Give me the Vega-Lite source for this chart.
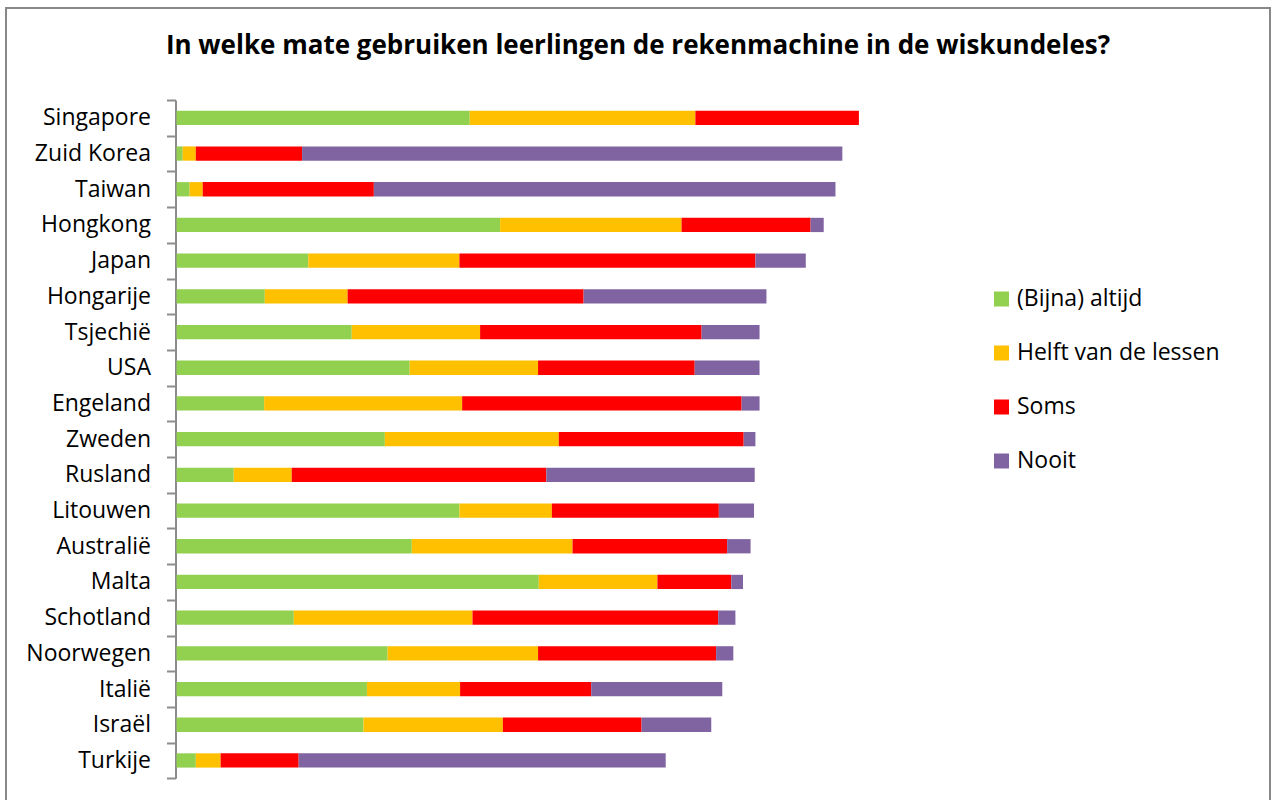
{
  "$schema": "https://vega.github.io/schema/vega-lite/v6.json",
  "width": 1264,
  "height": 800,
  "autosize": {"type": "none"},
  "padding": {"left": 6, "top": 8, "right": 2, "bottom": 0},
  "background": "white",
  "title": {
    "text": "In welke mate gebruiken leerlingen de rekenmachine in de wiskundeles?",
    "font": "Open Sans",
    "fontSize": 26,
    "fontWeight": "bold",
    "color": "#000000",
    "anchor": "middle",
    "frame": "group",
    "baseline": "alphabetic",
    "offset": -48,
    "dy": 35
  },
  "config": {
    "view": {"stroke": "#888888", "strokeWidth": 2}
  },
  "datasets": {
    "rows": [
      {"land": "Singapore", "categorie": "(Bijna) altijd", "volgorde": 1, "waarde": 42.5},
      {"land": "Singapore", "categorie": "Helft van de lessen", "volgorde": 2, "waarde": 32.7},
      {"land": "Singapore", "categorie": "Soms", "volgorde": 3, "waarde": 23.7},
      {"land": "Singapore", "categorie": "Nooit", "volgorde": 4, "waarde": 0},
      {"land": "Zuid Korea", "categorie": "(Bijna) altijd", "volgorde": 1, "waarde": 0.9},
      {"land": "Zuid Korea", "categorie": "Helft van de lessen", "volgorde": 2, "waarde": 1.9},
      {"land": "Zuid Korea", "categorie": "Soms", "volgorde": 3, "waarde": 15.4},
      {"land": "Zuid Korea", "categorie": "Nooit", "volgorde": 4, "waarde": 78.3},
      {"land": "Taiwan", "categorie": "(Bijna) altijd", "volgorde": 1, "waarde": 1.9},
      {"land": "Taiwan", "categorie": "Helft van de lessen", "volgorde": 2, "waarde": 1.9},
      {"land": "Taiwan", "categorie": "Soms", "volgorde": 3, "waarde": 24.8},
      {"land": "Taiwan", "categorie": "Nooit", "volgorde": 4, "waarde": 66.9},
      {"land": "Hongkong", "categorie": "(Bijna) altijd", "volgorde": 1, "waarde": 46.9},
      {"land": "Hongkong", "categorie": "Helft van de lessen", "volgorde": 2, "waarde": 26.3},
      {"land": "Hongkong", "categorie": "Soms", "volgorde": 3, "waarde": 18.7},
      {"land": "Hongkong", "categorie": "Nooit", "volgorde": 4, "waarde": 1.9},
      {"land": "Japan", "categorie": "(Bijna) altijd", "volgorde": 1, "waarde": 19.1},
      {"land": "Japan", "categorie": "Helft van de lessen", "volgorde": 2, "waarde": 21.9},
      {"land": "Japan", "categorie": "Soms", "volgorde": 3, "waarde": 42.9},
      {"land": "Japan", "categorie": "Nooit", "volgorde": 4, "waarde": 7.3},
      {"land": "Hongarije", "categorie": "(Bijna) altijd", "volgorde": 1, "waarde": 12.8},
      {"land": "Hongarije", "categorie": "Helft van de lessen", "volgorde": 2, "waarde": 12.0},
      {"land": "Hongarije", "categorie": "Soms", "volgorde": 3, "waarde": 34.2},
      {"land": "Hongarije", "categorie": "Nooit", "volgorde": 4, "waarde": 26.5},
      {"land": "Tsjechië", "categorie": "(Bijna) altijd", "volgorde": 1, "waarde": 25.4},
      {"land": "Tsjechië", "categorie": "Helft van de lessen", "volgorde": 2, "waarde": 18.6},
      {"land": "Tsjechië", "categorie": "Soms", "volgorde": 3, "waarde": 32.1},
      {"land": "Tsjechië", "categorie": "Nooit", "volgorde": 4, "waarde": 8.4},
      {"land": "USA", "categorie": "(Bijna) altijd", "volgorde": 1, "waarde": 33.8},
      {"land": "USA", "categorie": "Helft van de lessen", "volgorde": 2, "waarde": 18.6},
      {"land": "USA", "categorie": "Soms", "volgorde": 3, "waarde": 22.7},
      {"land": "USA", "categorie": "Nooit", "volgorde": 4, "waarde": 9.4},
      {"land": "Engeland", "categorie": "(Bijna) altijd", "volgorde": 1, "waarde": 12.7},
      {"land": "Engeland", "categorie": "Helft van de lessen", "volgorde": 2, "waarde": 28.7},
      {"land": "Engeland", "categorie": "Soms", "volgorde": 3, "waarde": 40.5},
      {"land": "Engeland", "categorie": "Nooit", "volgorde": 4, "waarde": 2.6},
      {"land": "Zweden", "categorie": "(Bijna) altijd", "volgorde": 1, "waarde": 30.2},
      {"land": "Zweden", "categorie": "Helft van de lessen", "volgorde": 2, "waarde": 25.2},
      {"land": "Zweden", "categorie": "Soms", "volgorde": 3, "waarde": 26.8},
      {"land": "Zweden", "categorie": "Nooit", "volgorde": 4, "waarde": 1.7},
      {"land": "Rusland", "categorie": "(Bijna) altijd", "volgorde": 1, "waarde": 8.3},
      {"land": "Rusland", "categorie": "Helft van de lessen", "volgorde": 2, "waarde": 8.4},
      {"land": "Rusland", "categorie": "Soms", "volgorde": 3, "waarde": 36.9},
      {"land": "Rusland", "categorie": "Nooit", "volgorde": 4, "waarde": 30.2},
      {"land": "Litouwen", "categorie": "(Bijna) altijd", "volgorde": 1, "waarde": 41.0},
      {"land": "Litouwen", "categorie": "Helft van de lessen", "volgorde": 2, "waarde": 13.4},
      {"land": "Litouwen", "categorie": "Soms", "volgorde": 3, "waarde": 24.2},
      {"land": "Litouwen", "categorie": "Nooit", "volgorde": 4, "waarde": 5.1},
      {"land": "Australië", "categorie": "(Bijna) altijd", "volgorde": 1, "waarde": 34.1},
      {"land": "Australië", "categorie": "Helft van de lessen", "volgorde": 2, "waarde": 23.3},
      {"land": "Australië", "categorie": "Soms", "volgorde": 3, "waarde": 22.4},
      {"land": "Australië", "categorie": "Nooit", "volgorde": 4, "waarde": 3.4},
      {"land": "Malta", "categorie": "(Bijna) altijd", "volgorde": 1, "waarde": 52.5},
      {"land": "Malta", "categorie": "Helft van de lessen", "volgorde": 2, "waarde": 17.2},
      {"land": "Malta", "categorie": "Soms", "volgorde": 3, "waarde": 10.7},
      {"land": "Malta", "categorie": "Nooit", "volgorde": 4, "waarde": 1.7},
      {"land": "Schotland", "categorie": "(Bijna) altijd", "volgorde": 1, "waarde": 17.0},
      {"land": "Schotland", "categorie": "Helft van de lessen", "volgorde": 2, "waarde": 25.9},
      {"land": "Schotland", "categorie": "Soms", "volgorde": 3, "waarde": 35.6},
      {"land": "Schotland", "categorie": "Nooit", "volgorde": 4, "waarde": 2.5},
      {"land": "Noorwegen", "categorie": "(Bijna) altijd", "volgorde": 1, "waarde": 30.6},
      {"land": "Noorwegen", "categorie": "Helft van de lessen", "volgorde": 2, "waarde": 21.8},
      {"land": "Noorwegen", "categorie": "Soms", "volgorde": 3, "waarde": 25.8},
      {"land": "Noorwegen", "categorie": "Nooit", "volgorde": 4, "waarde": 2.5},
      {"land": "Italië", "categorie": "(Bijna) altijd", "volgorde": 1, "waarde": 27.6},
      {"land": "Italië", "categorie": "Helft van de lessen", "volgorde": 2, "waarde": 13.5},
      {"land": "Italië", "categorie": "Soms", "volgorde": 3, "waarde": 19.0},
      {"land": "Italië", "categorie": "Nooit", "volgorde": 4, "waarde": 19.0},
      {"land": "Israël", "categorie": "(Bijna) altijd", "volgorde": 1, "waarde": 27.1},
      {"land": "Israël", "categorie": "Helft van de lessen", "volgorde": 2, "waarde": 20.2},
      {"land": "Israël", "categorie": "Soms", "volgorde": 3, "waarde": 20.1},
      {"land": "Israël", "categorie": "Nooit", "volgorde": 4, "waarde": 10.1},
      {"land": "Turkije", "categorie": "(Bijna) altijd", "volgorde": 1, "waarde": 2.8},
      {"land": "Turkije", "categorie": "Helft van de lessen", "volgorde": 2, "waarde": 3.6},
      {"land": "Turkije", "categorie": "Soms", "volgorde": 3, "waarde": 11.3},
      {"land": "Turkije", "categorie": "Nooit", "volgorde": 4, "waarde": 53.2}
    ]
  },
  "data": {"name": "rows"},
  "mark": {"type": "bar", "height": {"band": 0.4}},
  "encoding": {
    "y": {
      "field": "land",
      "type": "nominal",
      "sort": ["Singapore", "Zuid Korea", "Taiwan", "Hongkong", "Japan", "Hongarije", "Tsjechië", "USA", "Engeland", "Zweden", "Rusland", "Litouwen", "Australië", "Malta", "Schotland", "Noorwegen", "Italië", "Israël", "Turkije"],
      "scale": {"range": [92, 770.3], "paddingInner": 0, "paddingOuter": 0},
      "axis": {
        "title": null,
        "offset": -169.5,
        "domainColor": "#8c8c8c",
        "domainWidth": 2,
        "tickColor": "#8c8c8c",
        "tickWidth": 2,
        "tickSize": 9,
        "tickBand": "extent",
        "labelFont": "Open Sans",
        "labelFontSize": 23,
        "labelColor": "#000000",
        "labelPadding": 16,
        "labelLimit": 300,
        "grid": false
      }
    },
    "x": {
      "field": "waarde",
      "type": "quantitative",
      "stack": "zero",
      "scale": {"domain": [0, 100], "range": [170.5, 860.5], "nice": false, "zero": true},
      "axis": null
    },
    "color": {
      "field": "categorie",
      "type": "nominal",
      "scale": {
        "domain": ["(Bijna) altijd", "Helft van de lessen", "Soms", "Nooit"],
        "range": ["#92D050", "#FFC000", "#FF0000", "#8064A2"]
      },
      "legend": {
        "title": null,
        "orient": "none",
        "legendX": 984,
        "legendY": 279.5,
        "padding": 0,
        "symbolType": "square",
        "symbolSize": 225,
        "symbolStrokeWidth": 0,
        "labelFont": "Open Sans",
        "labelFontSize": 23,
        "labelColor": "#000000",
        "labelOffset": 4,
        "rowPadding": 30,
        "labelLimit": 300
      }
    },
    "order": {"field": "volgorde", "type": "quantitative"}
  }
}
